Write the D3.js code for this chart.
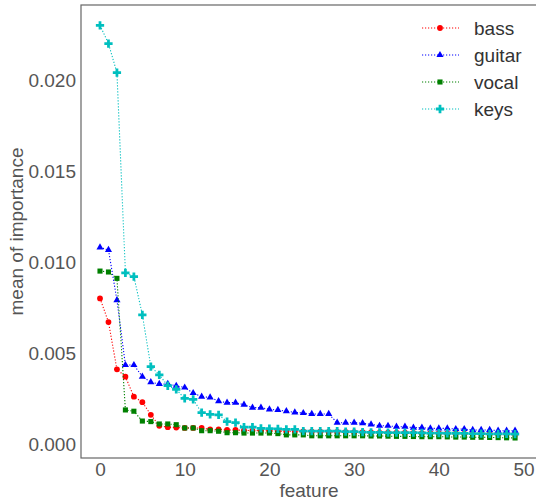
<!DOCTYPE html>
<html>
<head>
<meta charset="utf-8">
<script src="https://cdn.jsdelivr.net/npm/d3@7"></script>
<style>
  body { margin: 0; background: #fff; }
  text { font-family: "Liberation Sans", Arial, sans-serif; }
</style>
</head>
<body>
<div id="chart"></div>
<script>
// data
var features = d3.range(50);

var bass = [0.0080, 0.0067, 0.0041, 0.0037, 0.0026, 0.0023, 0.0016, 0.0010, 0.00092, 0.0009,
  0.00088, 0.00088, 0.00088, 0.0008, 0.0008, 0.00077, 0.00077, 0.00075, 0.00074, 0.00073,
  0.00072, 0.00071, 0.0007, 0.0007, 0.00069, 0.00068, 0.00068, 0.00067, 0.00066, 0.00066,
  0.00065, 0.00065, 0.00064, 0.00063, 0.00063, 0.00062, 0.00062, 0.00061, 0.0006, 0.0006,
  0.00059, 0.00058, 0.00058, 0.00057, 0.00056, 0.00056, 0.00055, 0.00055, 0.00054, 0.00053];

var guitar = [0.0108, 0.01066, 0.0079, 0.00434, 0.00434, 0.0037, 0.0034, 0.0033, 0.0033, 0.0032,
  0.0031, 0.0028, 0.0026, 0.00256, 0.00235, 0.00227, 0.00227, 0.00216, 0.0020, 0.0020,
  0.0019, 0.00187, 0.0018, 0.00174, 0.0017, 0.00165, 0.00165, 0.00165, 0.00117, 0.00117,
  0.00117, 0.00114, 0.00108, 0.0010, 0.0010, 0.00095, 0.00095, 0.0009, 0.0009, 0.00086,
  0.00086, 0.00086, 0.00082, 0.00082, 0.00077, 0.00077, 0.00077, 0.00073, 0.00073, 0.00073];

var vocal = [0.0095, 0.00945, 0.0091, 0.00187, 0.0018, 0.00126, 0.00123, 0.0011, 0.0011, 0.00106,
  0.00088, 0.00088, 0.00073, 0.00073, 0.0007, 0.00062, 0.00062, 0.0006, 0.0006, 0.0006,
  0.0006, 0.00057, 0.0005, 0.0005, 0.0005, 0.00045, 0.00045, 0.00045, 0.00045, 0.00045,
  0.00045, 0.00045, 0.00044, 0.00044, 0.00043, 0.00042, 0.00042, 0.00041, 0.0004, 0.0004,
  0.0004, 0.00039, 0.00038, 0.00038, 0.00037, 0.00037, 0.00036, 0.00035, 0.00034, 0.00033];

var keys = [0.0230, 0.0220, 0.0204, 0.0094, 0.0092, 0.0071, 0.00425, 0.0038, 0.0032, 0.0030,
  0.0025, 0.00245, 0.00172, 0.00163, 0.0016, 0.00123, 0.00117, 0.00092, 0.00092, 0.00086,
  0.00085, 0.00083, 0.0008, 0.0008, 0.00071, 0.00071, 0.00071, 0.0007, 0.0007, 0.00068,
  0.00068, 0.00065, 0.00064, 0.00064, 0.00063, 0.00063, 0.00062, 0.00062, 0.00061, 0.0006,
  0.0006, 0.00059, 0.00059, 0.00058, 0.00057, 0.00057, 0.00056, 0.00055, 0.00055, 0.00054];

var seriesNames = ["bass", "guitar", "vocal", "keys"];
var seriesValues = [bass, guitar, vocal, keys];
var seriesColors = ["#ff0000", "#0000ff", "#008000", "#00bfbf"];
var xTicks = [0, 10, 20, 30, 40, 50];
var yTicks = [0.000, 0.005, 0.010, 0.015, 0.020];

// layout
var svgWidth = 536, svgHeight = 504;
var plot = { left: 81, right: 537, top: 5, bottom: 458 };
var fontSize = "19px";

var svg = d3.select("#chart").append("svg")
  .attr("width", svgWidth)
  .attr("height", svgHeight);

var x = d3.scaleLinear().domain([-2.243, 51.59]).range([plot.left, plot.right]);
var y = d3.scaleLinear().domain([-0.00077, 0.02412]).range([plot.bottom, plot.top]);

// frame
svg.append("rect")
  .attr("x", plot.left).attr("y", plot.top)
  .attr("width", plot.right - plot.left).attr("height", plot.bottom - plot.top)
  .attr("fill", "none").attr("stroke", "#666").attr("stroke-width", 1.2);

// axes (no tick marks, only labels)
var xAxis = svg.append("g")
  .attr("transform", "translate(0," + plot.bottom + ")")
  .call(d3.axisBottom(x).tickValues(xTicks).tickSize(0).tickPadding(5));
var yAxis = svg.append("g")
  .attr("transform", "translate(" + plot.left + ",0)")
  .call(d3.axisLeft(y).tickValues(yTicks).tickSize(0).tickPadding(5).tickFormat(d3.format(".3f")));
[xAxis, yAxis].forEach(function(g) {
  g.select(".domain").remove();
  g.selectAll("text")
    .attr("fill", "#555")
    .style("font-size", fontSize)
    .style("font-family", "'Liberation Sans', Arial, sans-serif");
});

svg.append("text")
  .attr("x", (plot.left + plot.right) / 2).attr("y", 497)
  .attr("text-anchor", "middle")
  .attr("fill", "#555").style("font-size", fontSize)
  .text("feature");

svg.append("text")
  .attr("transform", "translate(23," + ((plot.top + plot.bottom) / 2) + ") rotate(-90)")
  .attr("text-anchor", "middle")
  .attr("fill", "#555").style("font-size", fontSize)
  .text("mean of importance");

// series
var symbols = [d3.symbolCircle, d3.symbolTriangle, d3.symbolSquare, d3.symbolCross];
var symbolSizes = [26, 22, 26, 38];

var line = d3.line()
  .x(function(d, i) { return x(features[i]); })
  .y(function(d) { return y(d); });

var plotArea = svg.append("g");

seriesValues.forEach(function(vals, s) {
  var g = plotArea.append("g");
  g.append("path")
    .datum(vals)
    .attr("fill", "none")
    .attr("stroke", seriesColors[s])
    .attr("stroke-width", 1.1)
    .attr("stroke-dasharray", "1.2,1.8")
    .attr("d", line);
  g.selectAll("path.pt")
    .data(vals)
    .enter()
    .append("path")
    .attr("class", "pt")
    .attr("fill", seriesColors[s])
    .attr("transform", function(d, i) { return "translate(" + x(features[i]) + "," + y(d) + ")"; })
    .attr("d", d3.symbol().type(symbols[s]).size(symbolSizes[s]));
});

// legend
var legend = svg.append("g");
seriesNames.forEach(function(name, s) {
  var ly = 28 + s * 27;
  legend.append("line")
    .attr("x1", 422).attr("x2", 459)
    .attr("y1", ly).attr("y2", ly)
    .attr("stroke", seriesColors[s])
    .attr("stroke-width", 1.1)
    .attr("stroke-dasharray", "1.2,1.8");
  legend.append("path")
    .attr("transform", "translate(440," + ly + ")")
    .attr("fill", seriesColors[s])
    .attr("d", d3.symbol().type(symbols[s]).size(symbolSizes[s]));
  legend.append("text")
    .attr("x", 474).attr("y", ly)
    .attr("dy", "0.35em")
    .attr("fill", "#333")
    .style("font-size", fontSize)
    .text(name);
});
</script>
</body>
</html>
